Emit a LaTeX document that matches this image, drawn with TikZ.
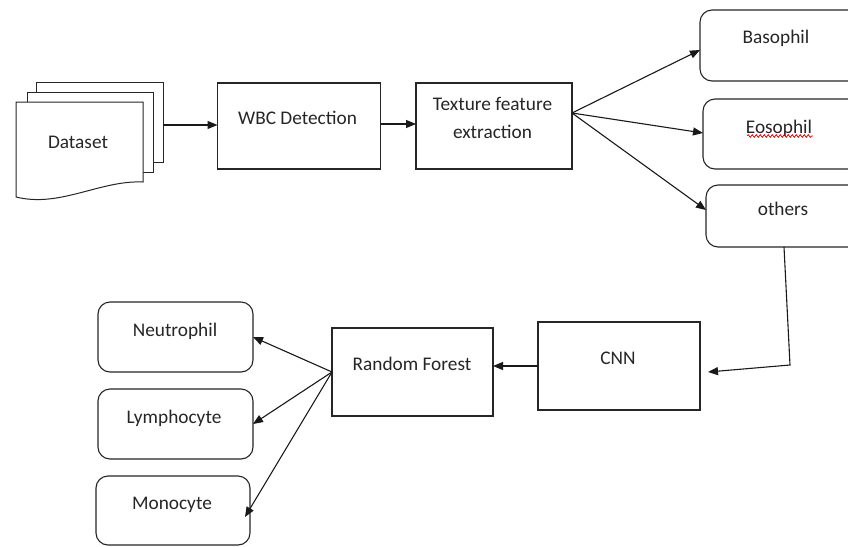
\documentclass[tikz,border=0pt]{standalone}
\usepackage{fontspec}
\setmainfont{Carlito}
\usetikzlibrary{arrows.meta,decorations.pathmorphing,calc}
\begin{document}
\begin{tikzpicture}[x=1pt,y=-1pt,
  every node/.style={inner sep=0pt,outer sep=0pt},
  box/.style={draw=black!85,line width=1.1pt,fill=white,rectangle},
  rbox/.style={box,rounded corners=12pt},
  page/.style={draw=black!85,line width=1pt,fill=white},
  lbl/.style={font=\fontsize{19.3}{23}\selectfont,text=black!85,text height=12.2pt,text depth=0pt,anchor=center},
  link/.style={draw=black!90,line width=1.1pt,-{Triangle[length=10pt,width=8pt]}},
]
\useasboundingbox (0,0) rectangle (848,546);
\clip (0,0) rectangle (848,546);

% stacked document pages of the dataset
\node[page,minimum width=127pt,minimum height=80pt] (dsb) at (99.5,122) {};
\node[page,minimum width=126pt,minimum height=80pt] (dsm) at (90,132) {};
\path[page] (16,102) -- (143,102) -- (143,182)
  .. controls (100,180) and (60,208) .. (16,197) -- cycle;
\node[lbl] (dstxt) at (78,142) {Dataset};

% processing chain
\node[box,minimum width=163pt,minimum height=86pt] (wbc) at (299,126) {};
\node[lbl] (wbctxt) at (297.5,118) {WBC Detection};
\node[box,minimum width=156pt,minimum height=86pt] (tex) at (494,126) {};
\node[lbl] (textxt1) at (492.5,104) {Texture feature};
\node[lbl] (textxt2) at (492.5,132) {extraction};

% first-stage classes
\node[rbox,minimum width=170pt,minimum height=71pt] (bas) at (785,45.5) {};
\node[lbl] (bastxt) at (776,37) {Basophil};
\node[rbox,minimum width=170pt,minimum height=70pt] (eos) at (788,134) {};
\node[lbl] (eostxt) at (779,127) {Eosophil};
\draw[red!85!black,line width=0.7pt,decorate,decoration={snake,amplitude=1.4pt,segment length=4pt}]
  (747,136) -- (813,136);
\node[rbox,minimum width=170pt,minimum height=62pt] (oth) at (791,216) {};
\node[lbl] (othtxt) at (783,209) {others};

% second stage
\node[box,minimum width=162pt,minimum height=88pt] (cnn) at (619,366) {};
\node[lbl] (cnntxt) at (618,358) {CNN};
\node[box,minimum width=161pt,minimum height=88pt] (rf) at (412.5,372) {};
\node[lbl] (rftxt) at (412,364) {Random Forest};

\node[rbox,minimum width=155pt,minimum height=70pt] (neu) at (175.5,337) {};
\node[lbl] (neutxt) at (175,330) {Neutrophil};
\node[rbox,minimum width=155pt,minimum height=70pt] (lym) at (175.5,424) {};
\node[lbl] (lymtxt) at (174,417) {Lymphocyte};
\node[rbox,minimum width=154pt,minimum height=69pt] (mon) at (173,510.5) {};
\node[lbl] (montxt) at (172,503) {Monocyte};

% connectors
\draw[link] ($(dsb.east)+(0,3)$) -- ($(dsb.east -| wbc.west)+(0,3)$);
\draw[link] ($(wbc.east)+(0,-2)$) -- ($(tex.west)+(0,-2)$);
\coordinate (tfork) at ($(tex.east)+(0,-13)$);
\draw[link] (tfork) -- (bas.west |- 0,50);
\draw[link] (tfork) -- (eos.west |- 0,133);
\draw[link] (tfork) -- (oth.west |- 0,210);
\coordinate (othout) at ($(oth.south)+(-7,0)$);
\coordinate (bend) at (790,365);
\coordinate (cnnin) at ($(cnn.east)+(8,6)$);
\draw[link] (othout) -- (bend) -- (cnnin);
\draw[link] (cnn.west) -- (cnn.west -| rf.east);
\draw[link] (rf.west) -- (neu.east);
\draw[link] (rf.west) -- (lym.east);
\draw[link] (rf.west) -- ($(mon.east)+(-5,6.5)$);
\end{tikzpicture}
\end{document}
